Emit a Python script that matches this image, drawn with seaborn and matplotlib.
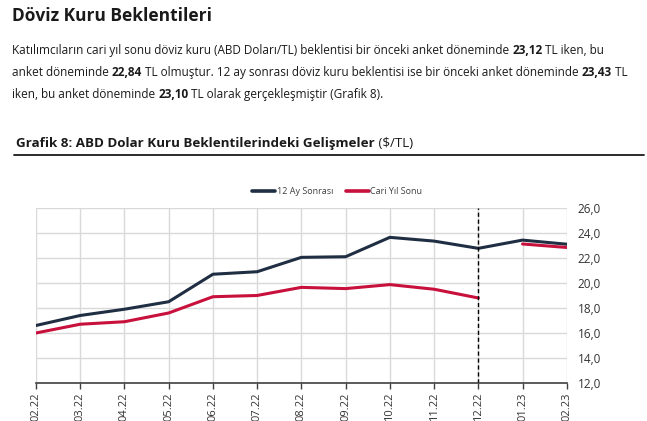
import numpy as np
import pandas as pd
import matplotlib
matplotlib.use("Agg")
import matplotlib.pyplot as plt
import seaborn as sns
from matplotlib.ticker import FuncFormatter

# ── data ────────────────────────────────────────────────────────────────
months = ["02.22", "03.22", "04.22", "05.22", "06.22", "07.22", "08.22",
          "09.22", "10.22", "11.22", "12.22", "01.23", "02.23"]
ay12_sonrasi = [16.6, 17.4, 17.9, 18.5, 20.7, 20.9, 22.05, 22.1, 23.65, 23.35, 22.77, 23.43, 23.10]
cari_yil_sonu = [16.0, 16.7, 16.9, 17.6, 18.9, 19.0, 19.65, 19.55, 19.87, 19.5, 18.8, 23.12, 22.84]
# survey year each point belongs to (cari yıl line restarts in the new year)
survey_year = [2022] * 11 + [2023] * 2

series_names = ["12 Ay Sonrası", "Cari Yıl Sonu"]
colors = ["#1f2e42", "#c8103c"]

df = pd.concat([
    pd.DataFrame({"x": range(len(months)), "y": ay12_sonrasi, "Seri": series_names[0], "grp": 0}),
    pd.DataFrame({"x": range(len(months)), "y": cari_yil_sonu, "Seri": series_names[1], "grp": survey_year}),
], ignore_index=True)

sns.set_theme(style="white")
plt.rcParams["font.family"] = ["Open Sans", "DejaVu Sans"]

fig = plt.figure(figsize=(6.47, 4.21), dpi=100)
ax = fig.add_axes([0.0556, 0.0903, 0.8204, 0.4157])

sns.lineplot(data=df, x="x", y="y", hue="Seri", units="grp", estimator=None,
             palette=dict(zip(series_names, colors)), linewidth=2.2, ax=ax, legend=False)

ax.set_xlim(0, len(months) - 1)
ax.set_ylim(12, 26)
ax.set_xticks(range(len(months)))
ax.set_xticklabels(months, rotation=90, fontsize=8, color="#333333")
ax.set_yticks(np.arange(12, 26.1, 2))
ax.yaxis.set_major_formatter(FuncFormatter(lambda v, _: f"{v:.1f}".replace(".", ",")))
ax.yaxis.tick_right()
ax.tick_params(axis="y", length=0, pad=8, labelsize=8.5, labelcolor="#333333")
ax.tick_params(axis="x", length=4, width=1, color="#404040", pad=3, bottom=True)
ax.set_xlabel("")
ax.set_ylabel("")
ax.grid(True, color="#d9d9d9", linewidth=1)
for s in ["top", "left", "right"]:
    ax.spines[s].set_visible(False)
ax.spines["bottom"].set_color("#404040")
ax.spines["bottom"].set_linewidth(1.2)
ax.axvline(months.index("12.22"), color="black", linestyle=(0, (3, 2)), linewidth=1)

handles = [plt.Line2D([], [], color=c, linewidth=2.6) for c in colors]
fig.legend(handles, series_names, loc="center", bbox_to_anchor=(0.521, 0.544), ncol=2,
           frameon=False, fontsize=6.5, handlelength=2.6, handletextpad=0.15, columnspacing=1.4,
           labelcolor="#404040")

# ── page text ───────────────────────────────────────────────────────────
fig.text(0.0185, 0.963, "Döviz Kuru Beklentileri", fontsize=12.5, fontweight="bold",
         color="#1a1a1a", va="center")

renderer = fig.canvas.get_renderer()
W = fig.bbox.width


def runs_line(x0, y, parts, size=8.5):
    x = x0
    for txt, bold in parts:
        t = fig.text(x, y, txt, fontsize=size, fontweight="bold" if bold else "normal",
                     color="#1a1a1a", va="center")
        x += t.get_window_extent(renderer).width / W


runs_line(0.0185, 0.880, [("Katılımcıların cari yıl sonu döviz kuru (ABD Doları/TL) beklentisi bir önceki anket döneminde ", False),
                          ("23,12", True), (" TL iken, bu", False)])
runs_line(0.0185, 0.827, [("anket döneminde ", False), ("22,84", True),
                          (" TL olmuştur. 12 ay sonrası döviz kuru beklentisi ise bir önceki anket döneminde ", False),
                          ("23,43", True), (" TL", False)])
runs_line(0.0185, 0.776, [("iken, bu anket döneminde ", False), ("23,10", True),
                          (" TL olarak gerçekleşmiştir (Grafik 8).", False)])

runs_line(0.0245, 0.658, [("Grafik 8: ABD Dolar Kuru Beklentilerindeki Gelişmeler", True), (" ($/TL)", False)], size=9.6)
fig.add_artist(plt.Line2D([0.0216, 0.995], [0.632, 0.632], color="#1a1a1a", linewidth=1.3,
                          transform=fig.transFigure))

fig.savefig("out.png", dpi=100)
